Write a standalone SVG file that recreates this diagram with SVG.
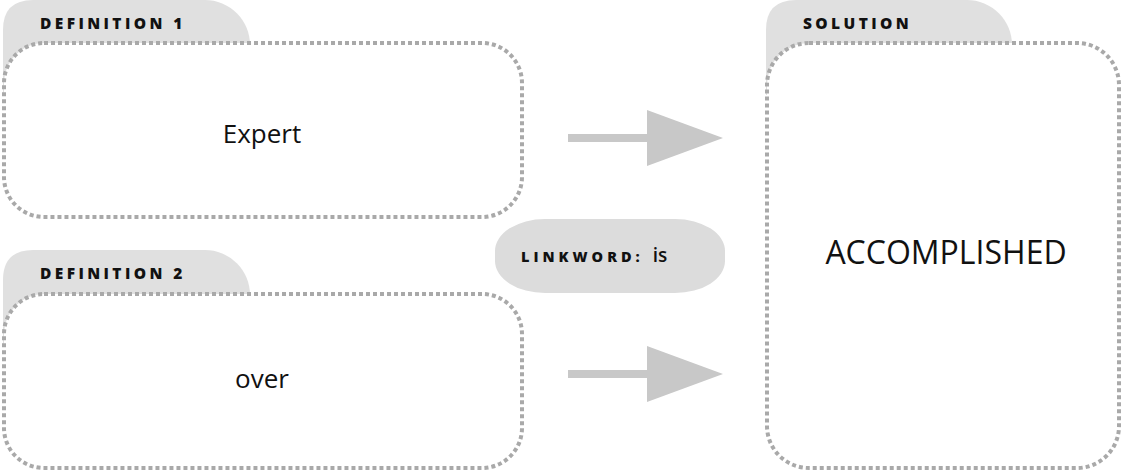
<svg xmlns="http://www.w3.org/2000/svg" width="1124" height="473" viewBox="0 0 1124 473">
<defs>
<style>
.tab{fill:#e0e0e0;}
.box{fill:#ffffff;stroke:#a9a9a9;stroke-width:4;stroke-dasharray:4 3;}
.hdr{font-family:"Open Sans","DejaVu Sans",sans-serif;font-weight:800;font-size:15.5px;letter-spacing:3.4px;fill:#111;}
.main{font-family:"Open Sans","DejaVu Sans",sans-serif;fill:#111;text-anchor:middle;}
.arrow{fill:#c8c8c8;}
</style>
</defs>
<rect width="1124" height="473" fill="#ffffff"/>
<g id="definition1">
<path class="tab" d="M3,95 V30 Q3,0 33,0 H205 A45,45 0 0 1 250,45 V95 Z"/>
<rect class="box" x="4" y="43" width="518" height="174" rx="40" ry="40"/>
<text class="hdr" x="40" y="29">DEFINITION 1</text>
<text class="main" x="262" y="143" font-size="26">Expert</text>
</g>
<g id="definition2">
<path class="tab" d="M3,345 V280 Q3,250 33,250 H205 A45,45 0 0 1 250,295 V345 Z"/>
<rect class="box" x="4" y="294" width="518" height="174" rx="40" ry="40"/>
<text class="hdr" x="40" y="279">DEFINITION 2</text>
<text class="main" x="262" y="388" font-size="26">over</text>
</g>
<g id="solution">
<path class="tab" d="M766,95 V30 Q766,0 796,0 H967 A45,45 0 0 1 1012,45 V95 Z"/>
<rect class="box" x="767" y="43" width="352" height="425" rx="42" ry="42"/>
<text class="hdr" x="803" y="29">SOLUTION</text>
<text class="main" x="946" y="264" font-size="32">ACCOMPLISHED</text>
</g>
<g id="linkword">
<rect x="495" y="219" width="230" height="74" rx="50" ry="32" fill="#dcdcdc"/>
<text x="521" y="262" font-family="'Open Sans','DejaVu Sans',sans-serif" fill="#111"><tspan font-weight="800" font-size="14.5" letter-spacing="4">LINKWORD:</tspan><tspan font-size="19" font-weight="600" dx="9">is</tspan></text>
</g>
<g id="connectors">
<rect class="arrow" x="568" y="134" width="82" height="8"/>
<polygon class="arrow" points="647,110 723,138 647,166"/>
<rect class="arrow" x="568" y="370" width="82" height="8"/>
<polygon class="arrow" points="647,346 723,374 647,402"/>
</g>
</svg>
